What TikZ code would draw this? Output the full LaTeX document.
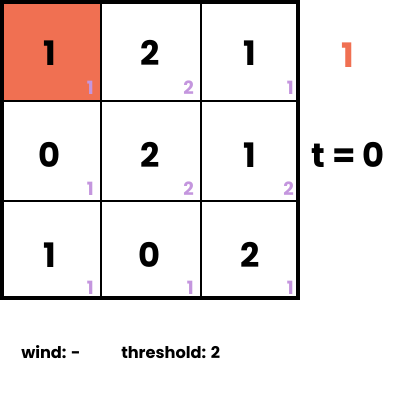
\documentclass[tikz,border=0pt]{standalone}
\usepackage{fontspec}
\setmainfont{Poppins}
\usepackage{xcolor}
\usetikzlibrary{positioning}
\definecolor{burnt}{RGB}{240,112,82}
\definecolor{lilac}{RGB}{196,150,222}

\begin{document}
\begin{tikzpicture}[x=0.025cm,y=-0.025cm,
  bignum/.style={font=\fontsize{24}{26}\selectfont\bfseries,inner sep=0pt},
  fuel/.style={font=\fontsize{13}{15}\selectfont\bfseries,text=lilac,inner sep=0pt,anchor=base east},
  caption/.style={font=\fontsize{11.5}{13}\selectfont\bfseries,inner sep=0pt,anchor=base west}]
\useasboundingbox (0,0) rectangle (400,400);
% burning cell
\fill[burnt] (2,2) rectangle (101,101);
% grid
\draw[line width=1.8pt] (101,2) -- (101,298);
\draw[line width=1.8pt] (201,2) -- (201,298);
\draw[line width=1.8pt] (2,101) -- (298,101);
\draw[line width=1.8pt] (2,201) -- (298,201);
\draw[line width=2.8pt] (2,2) rectangle (298,298);
% states
\node[bignum] (s11) at (50,53) {1};
\node[bignum] (s12) at (150,53) {2};
\node[bignum] (s13) at (250,53) {1};
\node[bignum] (s21) at (50,155) {0};
\node[bignum] (s22) at (150,155) {2};
\node[bignum] (s23) at (250,155) {1};
\node[bignum] (s31) at (50,255) {1};
\node[bignum] (s32) at (150,255) {0};
\node[bignum] (s33) at (250,255) {2};
% fuel
\node[fuel] (f11) at (94,95) {1};
\node[fuel] (f12) at (194,95) {2};
\node[fuel] (f13) at (294,95) {1};
\node[fuel] (f21) at (94,195) {1};
\node[fuel] (f22) at (194,195) {2};
\node[fuel] (f23) at (294,195) {2};
\node[fuel] (f31) at (94,294) {1};
\node[fuel] (f32) at (194,294) {1};
\node[fuel] (f33) at (294,294) {1};
% legend
\node[bignum,text=burnt] (fire) at (348,55) {1};
\node[bignum] (time) at (348,155) {t = 0};
\node[caption] (wind) at (21,358) {wind: -};
\node[caption] (thresh) at (121,358) {threshold: 2};
\end{tikzpicture}
\end{document}
